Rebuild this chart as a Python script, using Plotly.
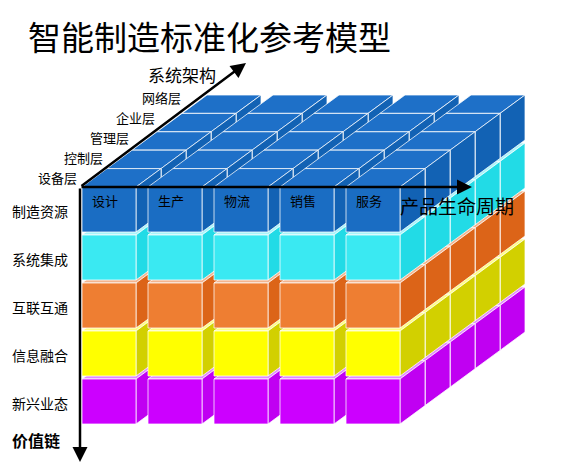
import plotly.graph_objects as go

title = "智能制造标准化参考模型"
lifecycle = ["设计", "生产", "物流", "销售", "服务"]
architecture = ["设备层", "控制层", "管理层", "企业层", "网络层"]
value_chain = ["制造资源", "系统集成", "互联互通", "信息融合", "新兴业态"]

# front, side, top colours per layer
front_col = ["#1a6dc3", "#3ae9f2", "#ee7e32", "#ffff00", "#cc00ff"]
side_col = ["#1262b4", "#22dbe6", "#dc6418", "#d2d000", "#c000f2"]
top_col = ["#1e70c8", "#a8f4fa", "#f2b48e", "#ffff80", "#e08cff"]

# geometry (pixels)
x0, y0 = 82, 187
col_w, col_pitch = 54, 66
row_h, row_pitch = 45, 48
dx, dy = 25, -18.4

shapes = []


def poly(pts, fill):
    d = "M " + " L ".join(f"{x},{y}" for x, y in pts) + " Z"
    shapes.append(dict(type="path", path=d, fillcolor=fill,
                       line=dict(color="rgba(255,255,255,0.75)", width=1)))


for li in reversed(range(len(value_chain))):
    for di in reversed(range(len(architecture))):
        for ci in range(len(lifecycle)):
            fx = x0 + ci * col_pitch + di * dx
            fy = y0 + li * row_pitch + di * dy
            w, h = col_w, row_h
            poly([(fx, fy), (fx + dx, fy + dy), (fx + w + dx, fy + dy), (fx + w, fy)], top_col[li])
            poly([(fx + w, fy), (fx + w + dx, fy + dy), (fx + w + dx, fy + h + dy), (fx + w, fy + h)], side_col[li])
            poly([(fx, fy), (fx + w, fy), (fx + w, fy + h), (fx, fy + h)], front_col[li])

ann = []


def txt(x, y, s, size, bold=False, anchor="left"):
    ann.append(dict(x=x, y=y, text=f"<b>{s}</b>" if bold else s, showarrow=False,
                    xanchor=anchor, yanchor="middle",
                    font=dict(size=size, color="black", family="Noto Sans CJK SC")))


def arrow(xa, ya, xb, yb):
    ann.append(dict(x=xb, y=yb, ax=xa, ay=ya, axref="x", ayref="y", xref="x", yref="y",
                    showarrow=True, arrowhead=2, arrowsize=1.2, arrowwidth=2.5,
                    arrowcolor="black", text=""))


arrow(80, 187, 472, 187)
arrow(80, 187, 246, 63)
arrow(80, 187, 80, 462)

txt(26, 36, title, 33)
for ci, s in enumerate(lifecycle):
    txt(x0 + 8 + ci * col_pitch, 200, s, 13)
for li, s in enumerate(value_chain):
    txt(10, 211 + li * row_pitch, s, 14)
for di, s in enumerate(architecture):
    txt(36 + di * 26, 177 - di * 20, s, 13)
txt(146, 74, "系统架构", 17)
txt(398, 205, "产品生命周期", 19)
txt(10, 440, "价值链", 16, bold=True)

fig = go.Figure()
fig.update_layout(
    width=574, height=469, margin=dict(l=0, r=0, t=0, b=0),
    paper_bgcolor="white", plot_bgcolor="white",
    xaxis=dict(range=[8, 582], visible=False, fixedrange=True),
    yaxis=dict(range=[477, 8], visible=False, fixedrange=True),
    shapes=shapes, annotations=ann, showlegend=False,
)
fig.write_html("out.html")
